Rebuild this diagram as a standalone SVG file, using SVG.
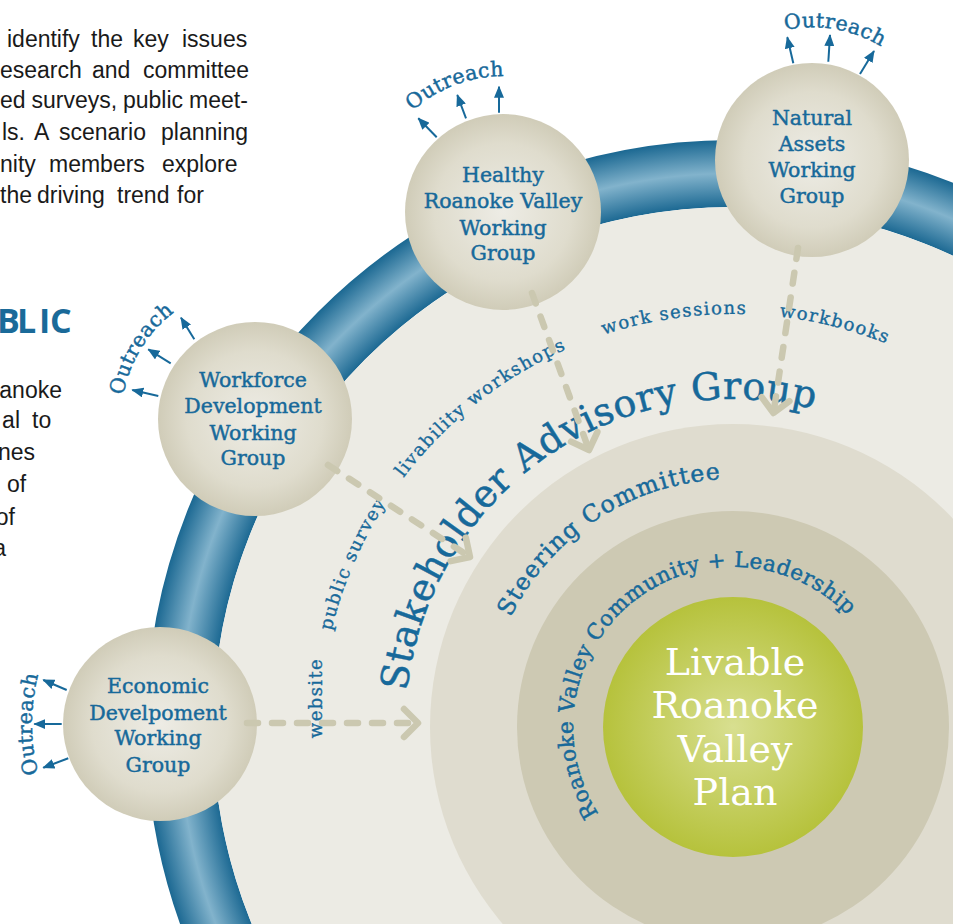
<svg xmlns="http://www.w3.org/2000/svg" width="953" height="924" viewBox="0 0 953 924">
<style>
.para{font-family:"Liberation Sans",Arial,sans-serif;font-size:23px;fill:#1a1a1a}
.head{font-family:"Open Sans","Liberation Sans",sans-serif;font-weight:bold;font-size:34px;fill:#1a6a99}
.node text{font-family:"DejaVu Serif","Liberation Serif",serif;font-size:20.5px;fill:#17699a;stroke:#17699a;stroke-width:0.45px;text-anchor:middle}
.lbl{font-family:"DejaVu Serif","Liberation Serif",serif;font-size:18px;fill:#17699a;stroke:#17699a;stroke-width:0.35px;letter-spacing:1.4px}
.out{font-family:"DejaVu Serif","Liberation Serif",serif;font-size:20.5px;fill:#17699a;stroke:#17699a;stroke-width:0.45px;letter-spacing:0.4px}
.big{font-family:"DejaVu Serif","Liberation Serif",serif;fill:#17699a;stroke:#17699a;stroke-width:0.5px}
.plan{font-family:"DejaVu Serif","Liberation Serif",serif;font-size:38px;fill:#ffffff;text-anchor:middle}
.conn{fill:none;stroke:#cbc8b0;stroke-width:6.5;stroke-dasharray:11 14;stroke-linecap:round;marker-end:url(#chev)}
.arr{stroke:#17699a;stroke-width:2;fill:none;marker-end:url(#tri)}
</style>
<defs>
<radialGradient id="ringG" gradientUnits="userSpaceOnUse" cx="733" cy="727" r="587">
<stop offset="0.885" stop-color="#1b6892"/>
<stop offset="0.943" stop-color="#82b3cc"/>
<stop offset="1" stop-color="#1b6892"/>
</radialGradient>
<radialGradient id="nodeG" cx="0.5" cy="0.5" r="0.5">
<stop offset="0" stop-color="#edece5"/>
<stop offset="0.7" stop-color="#dfdccd"/>
<stop offset="1" stop-color="#d0ccb8"/>
</radialGradient>
<radialGradient id="greenG" cx="0.5" cy="0.5" r="0.5">
<stop offset="0" stop-color="#d8df90"/>
<stop offset="1" stop-color="#b6c23c"/>
</radialGradient>
<marker id="chev" markerUnits="userSpaceOnUse" viewBox="-22 -22 28 44" markerWidth="28" markerHeight="44" refX="0" refY="0" orient="auto">
<path d="M-14,-14 L0,0 L-14,14" fill="none" stroke="#cbc8b0" stroke-width="6.5" stroke-linecap="round" stroke-linejoin="round"/>
</marker>
<marker id="tri" markerUnits="userSpaceOnUse" viewBox="0 0 12 10" markerWidth="12" markerHeight="10" refX="11" refY="5" orient="auto">
<path d="M0,0 L12,5 L0,10 z" fill="#17699a"/>
</marker>
<path id="pOutH" d="M384.1,146.5 A136,136 0 0 1 549.0,84.0"/>
<path id="pOutN" d="M745.3,45.3 A133,133 0 0 1 913.8,74.5"/>
<path id="pOutW" d="M127.2,458.6 A134,134 0 0 1 232.4,286.9"/>
<path id="pOutE" d="M58.5,823 A198,198 0 0 1 58.5,625"/>
<path id="pPS" d="M320.64,703.95 A413,413 0 0 1 431.94,444.28"/>
<path id="pLW" d="M364.04,541.43 A413,413 0 0 1 637.99,325.08"/>
<path id="pWS" d="M538.18,362.84 A413,413 0 0 1 817.81,322.80"/>
<path id="pWB" d="M705.63,314.91 A413,413 0 0 1 953.13,377.55"/>
<path id="pSAG" d="M415.74,810.23 A328,328 0 0 1 922.54,459.31"/>
<path id="pSC" d="M485.39,740.84 A248,248 0 0 1 844.82,505.64"/>
<path id="pRV" d="M626.98,846.83 A160,160 0 1 1 873.61,650.65"/>
</defs>
<rect width="953" height="924" fill="#ffffff"/>

<g id="paragraph-top" class="para">
<text y="47"><tspan x="7">identify</tspan><tspan x="91">the</tspan><tspan x="133">key</tspan><tspan x="182">issues</tspan></text>
<text y="78"><tspan x="0">esearch</tspan><tspan x="92">and</tspan><tspan x="143">committee</tspan></text>
<text y="108"><tspan x="0">ed</tspan><tspan x="31.5">surveys,</tspan><tspan x="123">public</tspan><tspan x="189">meet-</tspan></text>
<text y="140"><tspan x="2">ls.</tspan><tspan x="34">A</tspan><tspan x="59">scenario</tspan><tspan x="161">planning</tspan></text>
<text y="172"><tspan x="0">nity</tspan><tspan x="49">members</tspan><tspan x="162">explore</tspan></text>
<text y="203"><tspan x="0">the</tspan><tspan x="37">driving</tspan><tspan x="117">trend</tspan><tspan x="177">for</tspan></text>
</g>
<g id="heading">
<text class="head" y="333"><tspan x="-3">B</tspan><tspan x="17">L</tspan><tspan x="39">I</tspan><tspan x="50">C</tspan></text>
</g>
<g id="paragraph-left" class="para">
<text x="62" y="398" text-anchor="end">anoke</text>
<text x="20" y="428" text-anchor="end">al</text>
<text x="32" y="428">to</text>
<text x="35" y="460" text-anchor="end">nes</text>
<text x="7" y="492">of</text>
<text x="15" y="525" text-anchor="end">of</text>
<text x="6" y="556" text-anchor="end">a</text>
</g>

<g id="stakeholder-advisory-group">
<circle cx="733" cy="727" r="553.5" fill="none" stroke="url(#ringG)" stroke-width="67"/>
<circle cx="733" cy="727" r="520" fill="#ecebe4"/>
<text class="big" font-size="38" letter-spacing="0.6"><textPath href="#pSAG" startOffset="50%" text-anchor="middle">Stakeholder Advisory Group</textPath></text>
</g>
<g id="steering-committee">
<circle cx="733" cy="727" r="303" fill="#dfdccf"/>
<text class="big" font-size="23.5" letter-spacing="1.3"><textPath href="#pSC" startOffset="50%" text-anchor="middle">Steering Committee</textPath></text>
</g>
<g id="community-leadership">
<circle cx="733" cy="727" r="216" fill="#cdc9b3"/>
<text class="big" font-size="21.5" letter-spacing="0.5"><textPath href="#pRV" startOffset="50%" text-anchor="middle">Roanoke Valley Community + Leadership</textPath></text>
</g>
<g id="plan">
<circle cx="733" cy="727" r="130" fill="url(#greenG)"/>
<text class="plan" x="735" y="675">Livable</text>
<text class="plan" x="735" y="718">Roanoke</text>
<text class="plan" x="735" y="762">Valley</text>
<text class="plan" x="735" y="805">Plan</text>
</g>

<g id="labels" class="lbl">
<text><textPath href="#pPS" startOffset="50%" text-anchor="middle">public survey</textPath></text>
<text><textPath href="#pLW" startOffset="50%" text-anchor="middle">livability workshops</textPath></text>
<text><textPath href="#pWS" startOffset="50%" text-anchor="middle">work sessions</textPath></text>
<text><textPath href="#pWB" startOffset="50%" text-anchor="middle">workbooks</textPath></text>
<text transform="translate(322,698) rotate(-90)" text-anchor="middle">website</text>
</g>

<g id="node-healthy" class="node">
<circle cx="503" cy="212" r="98" fill="url(#nodeG)"/>
<text x="503" y="182">Healthy</text>
<text x="503" y="208">Roanoke Valley</text>
<text x="503" y="235">Working</text>
<text x="503" y="260">Group</text>
</g>
<g id="node-natural" class="node">
<circle cx="812" cy="160" r="97" fill="url(#nodeG)"/>
<text x="812" y="125">Natural</text>
<text x="812" y="151">Assets</text>
<text x="812" y="177">Working</text>
<text x="812" y="203">Group</text>
</g>
<g id="node-workforce" class="node">
<circle cx="255" cy="419" r="97" fill="url(#nodeG)"/>
<text x="253" y="387">Workforce</text>
<text x="253" y="413">Development</text>
<text x="253" y="440">Working</text>
<text x="253" y="465">Group</text>
</g>
<g id="node-economic" class="node">
<circle cx="160" cy="724" r="97" fill="url(#nodeG)"/>
<text x="158" y="693">Economic</text>
<text x="158" y="720">Develpoment</text>
<text x="158" y="745">Working</text>
<text x="158" y="772">Group</text>
</g>

<g id="outreach">
<text class="out"><textPath href="#pOutH" startOffset="50%" text-anchor="middle">Outreach</textPath></text>
<text class="out"><textPath href="#pOutN" startOffset="50%" text-anchor="middle">Outreach</textPath></text>
<text class="out"><textPath href="#pOutW" startOffset="50%" text-anchor="middle">Outreach</textPath></text>
<text class="out"><textPath href="#pOutE" startOffset="50%" text-anchor="middle">Outreach</textPath></text>
<path class="arr" d="M436.7,137.3 L418.3,118.3"/>
<path class="arr" d="M466,118.3 L457.3,95"/>
<path class="arr" d="M499,112.7 L499,86.7"/>
<path class="arr" d="M793.3,63.3 L787.3,37.3"/>
<path class="arr" d="M828.3,61.7 L830,35"/>
<path class="arr" d="M860,74 L874,51"/>
<path class="arr" d="M158.3,396 L132.3,390"/>
<path class="arr" d="M170.7,363.3 L148.3,349.3"/>
<path class="arr" d="M194.3,339.3 L181,317.7"/>
<path class="arr" d="M66.7,690 L43.3,680"/>
<path class="arr" d="M61.7,724 L34.3,724"/>
<path class="arr" d="M68.3,758.3 L43.3,767.7"/>
</g>

<g id="connectors">
<path class="conn" d="M532,293 L589,450"/>
<path class="conn" d="M798,248 L773.5,413"/>
<path class="conn" d="M328,465 L470,557"/>
<path class="conn" d="M247,723 L418,723"/>
</g>
</svg>
